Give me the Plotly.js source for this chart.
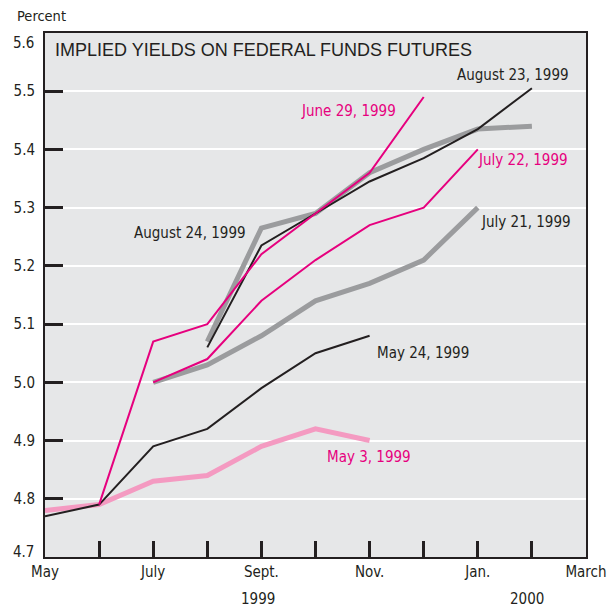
<!DOCTYPE html>
<html>
<head>
<meta charset="utf-8">
<script src="https://cdn.plot.ly/plotly-3.0.1.min.js"></script>
<style>html,body{margin:0;padding:0;background:#fff;}#chart{width:613px;height:610px;}</style>
</head>
<body>
<div id="chart"></div>
<script>
// Month index: 0 = May 1999 ... 10 = March 2000
const monthTicks = [0,1,2,3,4,5,6,7,8,9,10];
const monthLabels = ['May','','July','','Sept.','','Nov.','','Jan.','','March'];
const yearLabels = ['1999','2000'];
const yTickVals = [4.7,4.8,4.9,5.0,5.1,5.2,5.3,5.4,5.5,5.6];
const yTickText = ['4.7','4.8','4.9','5.0','5.1','5.2','5.3','5.4','5.5','5.6'];

const may3X  = [0,1,2,3,4,5,6];
const may3Y  = [4.78,4.79,4.83,4.84,4.89,4.92,4.90];
const may24X = [0,1,2,3,4,5,6];
const may24Y = [4.77,4.79,4.89,4.92,4.99,5.05,5.08];
const jun29X = [1,2,3,4,5,6,7];
const jun29Y = [4.79,5.07,5.10,5.22,5.29,5.36,5.49];
const jul21X = [2,3,4,5,6,7,8];
const jul21Y = [5.00,5.03,5.08,5.14,5.17,5.21,5.30];
const jul22X = [2,3,4,5,6,7,8];
const jul22Y = [5.00,5.04,5.14,5.21,5.27,5.30,5.40];
const aug23X = [3,4,5,6,7,8,9];
const aug23Y = [5.06,5.235,5.29,5.345,5.385,5.435,5.505];
const aug24X = [3,4,5,6,7,8,9];
const aug24Y = [5.07,5.265,5.29,5.36,5.40,5.435,5.44];

const seriesNames = ['May 3, 1999','May 24, 1999','June 29, 1999','July 21, 1999','July 22, 1999','August 23, 1999','August 24, 1999'];

const INK = '#231f20', MAG = '#e6007e', PINK = '#f49ac1', GRAY = '#9b9c9e';
const NARROW = '"Liberation Sans Narrow", "DejaVu Sans Condensed", "Arial Narrow", sans-serif';
const REG = '"Liberation Sans", Arial, sans-serif';

function line(x, y, name, color, width) {
  return {x: x, y: y, name: name, type: 'scatter', mode: 'lines',
          line: {color: color, width: width, shape: 'linear'}, hoverinfo: 'skip'};
}

const traces = [
  line(aug24X, aug24Y, seriesNames[6], GRAY, 5),
  line(jul21X, jul21Y, seriesNames[3], GRAY, 5),
  line(may3X,  may3Y,  seriesNames[0], PINK, 5),
  line(may24X, may24Y, seriesNames[1], INK, 2),
  line(aug23X, aug23Y, seriesNames[5], INK, 2),
  line(jun29X, jun29Y, seriesNames[2], MAG, 2),
  line(jul22X, jul22Y, seriesNames[4], MAG, 2)
];

// pixel helpers for text placement
const L = 45, T = 33, PW = 541, PH = 524;
const px = v => (v - L) / PW;
const py = v => (T + PH - v) / PH;

function lab(text, x, y, color, anchor, font, size) {
  return {text: text, xref: 'paper', yref: 'paper', x: px(x), y: py(y),
          xanchor: anchor || 'left', yanchor: 'middle', showarrow: false,
          font: {family: font || NARROW, size: size || 15, color: color}};
}

const shownYText = yTickText.map((t, i) => (i === 0 || i === yTickText.length - 1) ? '' : t);

const annotations = [
  lab('IMPLIED YIELDS ON FEDERAL FUNDS FUTURES', 53, 50, INK, 'left', REG, 18),
  lab('Percent', 15, 16, INK, 'left', NARROW, 14.5),
  lab(yTickText[yTickText.length - 1], 36, 43, INK, 'right', NARROW, 15),
  lab(yTickText[0], 36, 552, INK, 'right', NARROW, 15),
  lab(seriesNames[5], 455, 75, INK),
  lab(seriesNames[2], 299, 111, MAG),
  lab(seriesNames[4], 476, 160, MAG),
  lab(seriesNames[3], 479, 222, INK),
  lab(seriesNames[6], 132, 233, INK),
  lab(seriesNames[1], 375, 353, INK),
  lab(seriesNames[0], 325, 457, MAG),
  lab(yearLabels[0], 258, 599, INK, 'center', NARROW, 15),
  lab(yearLabels[1], 527, 599, INK, 'center', NARROW, 15)
];

const layout = {
  width: 613, height: 610,
  margin: {l: L, r: 613 - L - PW, t: T, b: 610 - T - PH},
  paper_bgcolor: '#ffffff', plot_bgcolor: '#e6e7e8',
  showlegend: false,
  xaxis: {range: [0, 10], tickmode: 'array', tickvals: monthTicks, ticktext: monthLabels,
          ticks: 'inside', ticklen: 16, tickwidth: 3, tickcolor: INK,
          showline: true, linecolor: INK, linewidth: 2, mirror: true,
          showgrid: false, zeroline: false, fixedrange: true,
          tickfont: {family: NARROW, size: 15, color: INK}},
  yaxis: {range: [4.7, 5.6], tickmode: 'array', tickvals: yTickVals, ticktext: shownYText,
          ticks: 'inside', ticklen: 18, tickwidth: 3, tickcolor: INK,
          showline: true, linecolor: INK, linewidth: 2, mirror: true,
          showgrid: true, gridcolor: '#ffffff', gridwidth: 2, zeroline: false, fixedrange: true,
          ticklabelstandoff: 5,
          tickfont: {family: NARROW, size: 15, color: INK}},
  annotations: annotations
};

Plotly.newPlot('chart', traces, layout, {staticPlot: true, displayModeBar: false});
</script>
</body>
</html>
